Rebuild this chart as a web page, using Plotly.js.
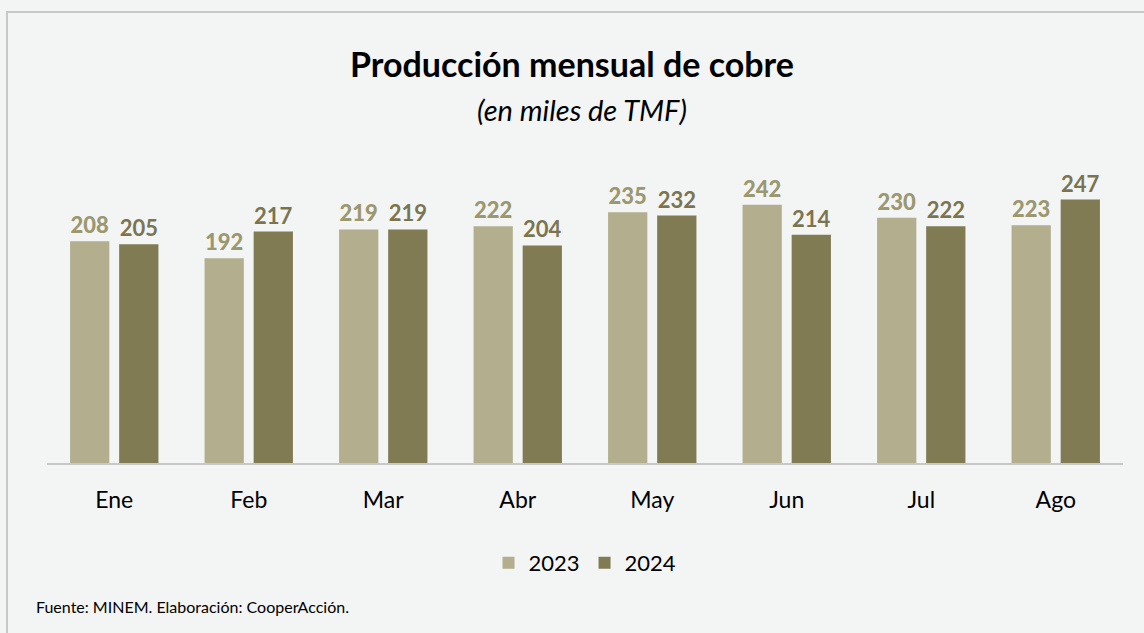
<!DOCTYPE html>
<html>
<head>
<meta charset="utf-8">
<script src="https://cdn.plot.ly/plotly-3.0.1.min.js"></script>
<style>
  body { margin: 0; background: #f3f4f4; }
  #chart { width: 1144px; height: 633px; }
</style>
</head>
<body>
<div id="chart"></div>
<script>
// monthly copper production, thousands of TMF
const months = ['Ene', 'Feb', 'Mar', 'Abr', 'May', 'Jun', 'Jul', 'Ago'];
const prod2023 = [208, 192, 219, 222, 235, 242, 230, 223];
const prod2024 = [205, 217, 219, 204, 232, 214, 222, 247];

const FONT = 'Lato, Open Sans, sans-serif';

let trace2023 = {
    x: months,
    y: prod2023,
    type: 'bar',
    name: '2023',
    marker: { color: '#b2ae8e' },
    text: prod2023.map(String),
    textposition: 'outside',
    cliponaxis: false,
    textfont: { family: FONT, size: 22, color: '#9b9870', weight: 900 },
    hoverinfo: 'x+y'
};
let trace2024 = {
    x: months,
    y: prod2024,
    type: 'bar',
    name: '2024',
    marker: { color: '#807b53' },
    text: prod2024.map(String),
    textposition: 'outside',
    cliponaxis: false,
    textfont: { family: FONT, size: 22, color: '#7a7550', weight: 'bold' },
    hoverinfo: 'x+y'
};

// plot area: x 47..1123, y 143..463 (px)
const pl = 47, pr = 1144 - 1123, pt = 143, pb = 633 - 463;
const pw = 1144 - pl - pr, ph = 633 - pt - pb;

let layout = {
    width: 1144,
    height: 633,
    margin: { l: pl, r: pr, t: pt, b: pb },
    paper_bgcolor: '#f3f4f4',
    plot_bgcolor: '#f3f4f4',
    font: { family: FONT, color: '#000000' },
    barmode: 'group',
    bargap: 0.27,
    bargroupgap: 0.2,
    showlegend: true,
    legend: {
        orientation: 'h',
        x: 0.5, xanchor: 'center',
        y: (463 - 563) / ph, yanchor: 'middle',
        font: { size: 22, color: '#000000' },
        itemwidth: 30,
        traceorder: 'normal'
    },
    xaxis: {
        showline: true,
        linecolor: '#c8c8c8',
        linewidth: 2,
        ticks: '',
        tickfont: { size: 23, color: '#000000' },
        ticklabelstandoff: 15,
        fixedrange: true
    },
    yaxis: {
        range: [0, 300],
        visible: false,
        showgrid: false,
        zeroline: false,
        fixedrange: true
    },
    annotations: [
        {
            text: '<b>Producción mensual de cobre</b>',
            xref: 'paper', yref: 'paper',
            x: (572 - pl) / pw, y: (463 - 63) / ph,
            xanchor: 'center', yanchor: 'middle',
            showarrow: false,
            font: { size: 34, color: '#000000' }
        },
        {
            text: '<i>(en miles de TMF)</i>',
            xref: 'paper', yref: 'paper',
            x: (582 - pl) / pw, y: (463 - 109) / ph,
            xanchor: 'center', yanchor: 'middle',
            showarrow: false,
            font: { size: 29, color: '#000000' }
        },
        {
            text: 'Fuente: MINEM. Elaboración: CooperAcción.',
            xref: 'paper', yref: 'paper',
            x: (34 - pl) / pw, y: (463 - 606) / ph,
            xanchor: 'left', yanchor: 'middle',
            showarrow: false,
            font: { size: 16, color: '#000000' }
        }
    ],
    shapes: [
        {
            type: 'rect',
            xref: 'paper', yref: 'paper',
            x0: (7 - pl) / pw, x1: (1160 - pl) / pw,
            y0: (463 - 660) / ph, y1: (463 - 12) / ph,
            line: { color: '#c7c8c8', width: 2 },
            fillcolor: 'rgba(0,0,0,0)',
            layer: 'below'
        }
    ]
};

Plotly.newPlot('chart', [trace2023, trace2024], layout, { displayModeBar: false });
</script>
</body>
</html>
